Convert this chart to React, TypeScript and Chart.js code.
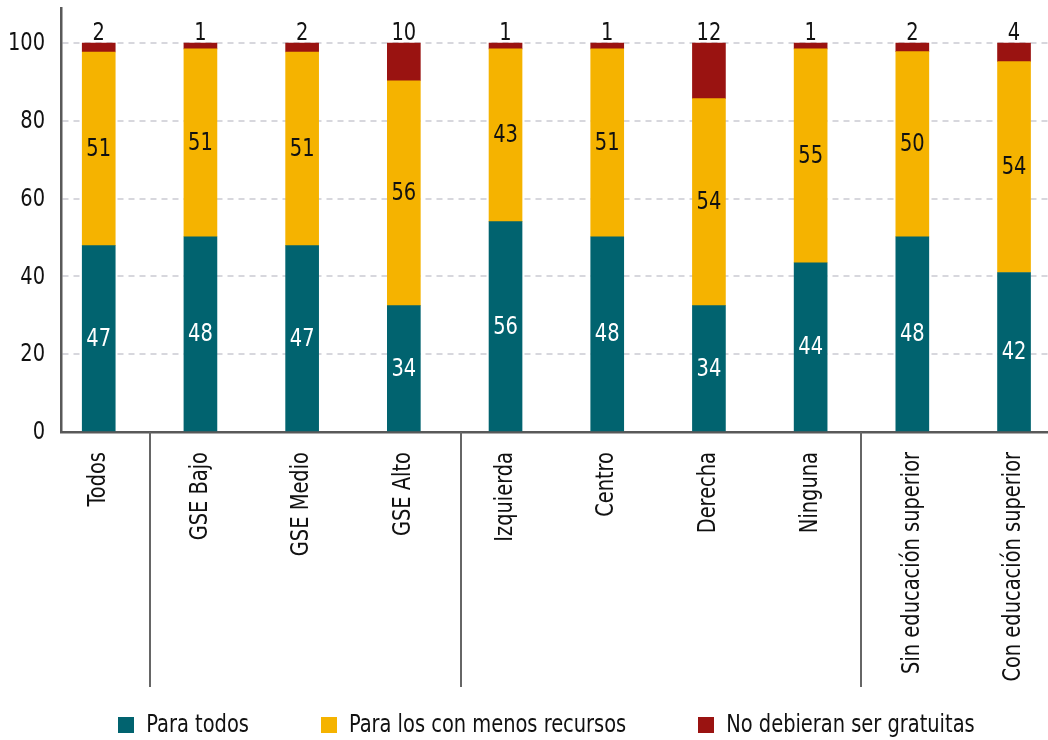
import React, { useEffect, useRef } from "react";
import { Chart, registerables } from "chart.js";

Chart.register(...registerables);

const categories = [
  "Todos",
  "GSE Bajo",
  "GSE Medio",
  "GSE Alto",
  "Izquierda",
  "Centro",
  "Derecha",
  "Ninguna",
  "Sin educación superior",
  "Con educación superior",
];

// segment heights
const paraTodos = [47.9, 50.2, 47.9, 32.5, 54.1, 50.2, 32.5, 43.5, 50.2, 41.0];
const paraMenosRecursos = [49.8, 48.3, 49.8, 57.8, 44.4, 48.3, 53.2, 55.0, 47.6, 54.2];
const noGratuitas = [2.3, 1.5, 2.3, 9.7, 1.5, 1.5, 14.3, 1.5, 2.2, 4.8];

// printed labels
const paraTodosLabels = [47, 48, 47, 34, 56, 48, 34, 44, 48, 42];
const paraMenosRecursosLabels = [51, 51, 51, 56, 43, 51, 54, 55, 50, 54];
const noGratuitasLabels = [2, 1, 2, 10, 1, 1, 12, 1, 2, 4];

const seriesNames = ["Para todos", "Para los con menos recursos", "No debieran ser gratuitas"];
const seriesColors = ["#01636F", "#F5B300", "#9A1311"];

const groupBreaks = [0.5, 3.56, 7.5];
const yTicks = [0, 20, 40, 60, 80, 100];

const FONT = '"DejaVu Sans Condensed", "DejaVu Sans", sans-serif';
const FS = 24;
const SQUEEZE = 0.9;

function condensedText(ctx: any, txt: string, x: number, y: number, rot = 0) {
  ctx.save();
  ctx.translate(x, y);
  if (rot) ctx.rotate(rot);
  ctx.scale(SQUEEZE, 1);
  ctx.fillText(txt, 0, 0);
  ctx.restore();
}

const labelPlugin = {
  id: "segLabels",
  afterDatasetsDraw(chart: any) {
    const ctx = chart.ctx;
    const labelSets = [paraTodosLabels, paraMenosRecursosLabels, noGratuitasLabels];
    ctx.save();
    ctx.font = `${FS}px ${FONT}`;
    ctx.textAlign = "center";
    chart.data.datasets.forEach((ds: any, di: number) => {
      const meta = chart.getDatasetMeta(di);
      meta.data.forEach((el: any, i: number) => {
        const txt = String(labelSets[di][i]);
        if (di === 2) {
          ctx.fillStyle = "#111";
          ctx.textBaseline = "alphabetic";
          condensedText(ctx, txt, el.x, el.y - 3);
        } else {
          ctx.fillStyle = di === 0 ? "#ffffff" : "#111";
          ctx.textBaseline = "middle";
          condensedText(ctx, txt, el.x, (el.y + el.base) / 2 + 1);
        }
      });
    });
    ctx.restore();
  },
};

const axisTextPlugin = {
  id: "axisText",
  afterDraw(chart: any) {
    const ctx = chart.ctx;
    const xs = chart.scales.x;
    const ys = chart.scales.y;
    const ca = chart.chartArea;
    ctx.save();
    ctx.font = `${FS}px ${FONT}`;
    ctx.fillStyle = "#111";
    // y tick labels
    ctx.textAlign = "right";
    ctx.textBaseline = "middle";
    yTicks.forEach((v) => {
      condensedText(ctx, String(v), ca.left - 16, ys.getPixelForValue(v) + 1);
    });
    // x category labels, rotated
    ctx.textAlign = "right";
    ctx.textBaseline = "middle";
    categories.forEach((c, i) => {
      condensedText(ctx, c, xs.getPixelForValue(i), ca.bottom + 20, -Math.PI / 2);
    });
    // group separators
    ctx.strokeStyle = "#666666";
    ctx.lineWidth = 2;
    groupBreaks.forEach((b) => {
      const px = Math.round(xs.getPixelForValue(b));
      ctx.beginPath();
      ctx.moveTo(px, ca.bottom);
      ctx.lineTo(px, xs.bottom);
      ctx.stroke();
    });
    ctx.restore();
  },
};

const legendPlugin = {
  id: "bottomLegend",
  afterDraw(chart: any) {
    const ctx = chart.ctx;
    const box = 16;
    const gap = 12;
    const spacing = 72;
    ctx.save();
    ctx.font = `${FS}px ${FONT}`;
    const widths = seriesNames.map((n) => ctx.measureText(n).width * SQUEEZE);
    const total = widths.reduce((a, w) => a + box + gap + w, 0) + spacing * (seriesNames.length - 1);
    const ca = chart.chartArea;
    let x = (ca.left + ca.right) / 2 - 8 - total / 2;
    const cy = 725;
    seriesNames.forEach((n, i) => {
      ctx.fillStyle = seriesColors[i];
      ctx.fillRect(Math.round(x), cy - box / 2, box, box);
      ctx.fillStyle = "#111";
      ctx.textAlign = "left";
      ctx.textBaseline = "middle";
      condensedText(ctx, n, x + box + gap, cy + 1);
      x += box + gap + widths[i] + spacing;
    });
    ctx.restore();
  },
};

export default function App() {
  const ref = useRef<HTMLCanvasElement | null>(null);
  useEffect(() => {
    document.body.style.margin = "0";
    if (!ref.current) return;
    const datasets = [paraTodos, paraMenosRecursos, noGratuitas].map((arr, k) => ({
      label: seriesNames[k],
      data: arr.map((v, i) => ({ x: i, y: v })),
      backgroundColor: seriesColors[k],
      borderWidth: 0,
      barThickness: 33,
    }));
    const chart = new Chart(ref.current, {
      type: "bar",
      data: { datasets },
      options: {
        animation: false,
        responsive: false,
        devicePixelRatio: 1,
        layout: { padding: { top: 8, right: 0, bottom: 53, left: 0 } },
        plugins: { legend: { display: false }, tooltip: { enabled: false } },
        scales: {
          x: {
            type: "linear",
            stacked: true,
            offset: false,
            min: -0.371,
            max: 9.334,
            grid: { display: false, drawTicks: false, offset: false },
            border: { display: true, color: "#595959", width: 2.5 },
            afterFit(scale: any) {
              scale.height = 255;
            },
            afterBuildTicks(scale: any) {
              scale.ticks = categories.map((_, i) => ({ value: i }));
            },
            ticks: { display: false },
          },
          y: {
            stacked: true,
            min: 0,
            max: 109,
            afterFit(scale: any) {
              scale.width = 61;
            },
            afterBuildTicks(scale: any) {
              scale.ticks = yTicks.map((v) => ({ value: v }));
            },
            grid: {
              color: "#d7d7dd",
              lineWidth: 2,
              drawTicks: false,
            },
            border: { display: true, color: "#595959", width: 2.5, dash: [6, 5] },
            ticks: { display: false },
          },
        },
      },
      plugins: [labelPlugin, axisTextPlugin, legendPlugin],
    });
    return () => chart.destroy();
  }, []);
  return (
    <div style={{ width: 1048, height: 740 }}>
      <canvas ref={ref} width={1048} height={740} style={{ display: "block" }} />
    </div>
  );
}
